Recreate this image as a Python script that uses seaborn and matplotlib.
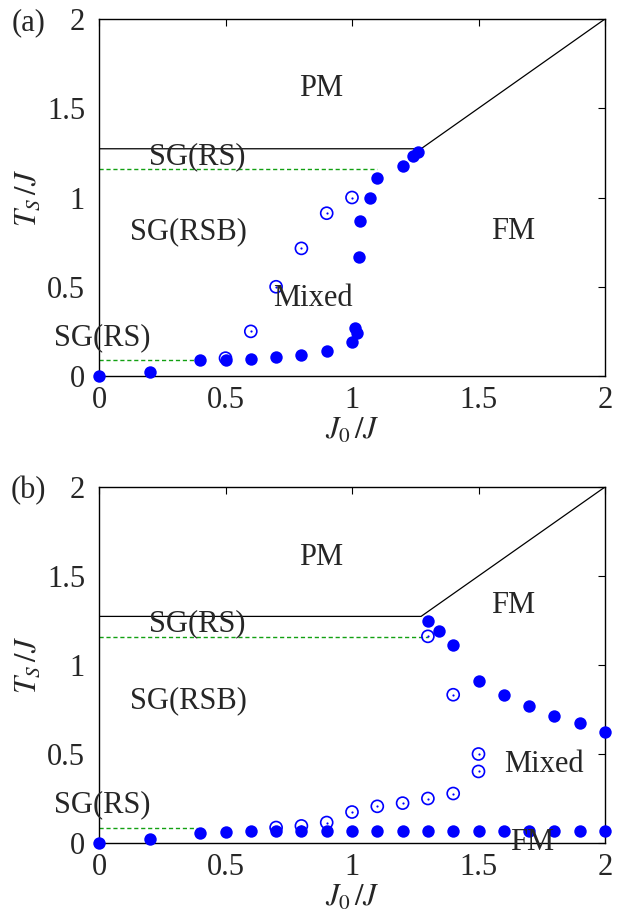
import matplotlib
matplotlib.use("Agg")
import matplotlib.pyplot as plt
import seaborn as sns

sns.set_theme(style="white")
plt.rcParams['font.family'] = ['Liberation Serif', 'DejaVu Serif']
plt.rcParams['mathtext.fontset'] = 'stix'

# ---------------- data ----------------
# panel (a)
a_filled_x = [0.0, 0.2, 0.4, 0.5, 0.6, 0.7, 0.8, 0.9, 1.0, 1.01, 1.02, 1.028, 1.033, 1.07, 1.10, 1.20, 1.243, 1.26]
a_filled_y = [0.0, 0.022, 0.087, 0.087, 0.095, 0.104, 0.119, 0.141, 0.19, 0.27, 0.24, 0.668, 0.868, 1.0, 1.111, 1.176, 1.234, 1.253]
a_open_x = [0.5, 0.6, 0.7, 0.8, 0.9, 1.0]
a_open_y = [0.10, 0.25, 0.50, 0.715, 0.912, 1.0]
a_green_x = [0.0, 1.10]
a_green_y = [1.158, 1.158]

# panel (b)
b_filled_x = [0.0, 0.2, 0.4, 0.5, 0.6, 0.7, 0.8, 0.9, 1.0, 1.1, 1.2, 1.3, 1.4, 1.5, 1.6, 1.7, 1.8, 1.9, 2.0,
              1.30, 1.345, 1.40, 1.50, 1.60, 1.70, 1.80, 1.90, 2.0]
b_filled_y = [0.0, 0.022, 0.056, 0.059, 0.067, 0.069, 0.069, 0.069, 0.07, 0.07, 0.07, 0.07, 0.07, 0.07, 0.07, 0.07, 0.07, 0.07, 0.07,
              1.248, 1.189, 1.111, 0.909, 0.831, 0.769, 0.713, 0.674, 0.624]
b_open_x = [0.7, 0.8, 0.9, 1.0, 1.1, 1.2, 1.3, 1.4, 1.5, 1.5, 1.4, 1.3]
b_open_y = [0.087, 0.096, 0.115, 0.174, 0.206, 0.224, 0.25, 0.278, 0.402, 0.50, 0.833, 1.161]
b_green_x = [0.0, 1.30]
b_green_y = [1.156, 1.156]

# shared boundaries
pm_x = [0.0, 1.273, 2.0]
pm_y = [1.273, 1.273, 2.0]
low_green_x = [0.0, 0.386]
low_green_y = [0.087, 0.087]

ticks = [0, 0.5, 1, 1.5, 2]
tick_labels = ["0", "0.5", "1", "1.5", "2"]

a_texts = [("PM", 0.878, 1.61), ("SG(RS)", 0.39, 1.228), ("SG(RSB)", 0.352, 0.807),
           ("FM", 1.635, 0.807), ("Mixed", 0.844, 0.436), ("SG(RS)", 0.012, 0.215)]
b_texts = [("PM", 0.878, 1.606), ("FM", 1.635, 1.337), ("SG(RS)", 0.39, 1.23),
           ("SG(RSB)", 0.352, 0.80), ("Mixed", 1.758, 0.439), ("FM", 1.71, 0.004),
           ("SG(RS)", 0.012, 0.215)]

W, H = 629, 916
fig = plt.figure(figsize=(W / 100, H / 100), dpi=100)
ax_a = fig.add_axes([99 / W, 1 - 376 / H, 506 / W, 357 / H])
ax_b = fig.add_axes([99 / W, 1 - 843 / H, 506 / W, 356 / H])

BLUE = "#0000ff"
GREEN = "#12a012"
FS = 22


def draw(ax, fx, fy, ox, oy, gx, gy, texts, label):
    sns.lineplot(x=pm_x, y=pm_y, ax=ax, color="black", lw=0.9, sort=False, estimator=None)
    sns.lineplot(x=gx, y=gy, ax=ax, color=GREEN, lw=1.0, linestyle=(0, (3, 2)), sort=False, estimator=None)
    sns.lineplot(x=low_green_x, y=low_green_y, ax=ax, color=GREEN, lw=1.0, linestyle=(0, (3, 2)),
                 sort=False, estimator=None)
    sns.scatterplot(x=ox, y=oy, ax=ax, marker="o", s=75, facecolor="none", edgecolor=BLUE,
                    linewidth=1.2, clip_on=False, zorder=3)
    sns.scatterplot(x=ox, y=oy, ax=ax, marker="o", s=2.5, color=BLUE, linewidth=0, clip_on=False, zorder=3)
    sns.scatterplot(x=fx, y=fy, ax=ax, marker="o", s=80, color=BLUE, linewidth=0, clip_on=False, zorder=4)
    for t, x, y in texts:
        ax.text(x, y, t, ha="center", va="center", fontsize=FS, zorder=5)
    ax.set_xlim(0, 2)
    ax.set_ylim(0, 2)
    ax.set_xticks(ticks)
    ax.set_xticklabels(tick_labels)
    ax.set_yticks(ticks)
    ax.set_yticklabels(tick_labels)
    ax.tick_params(direction="in", top=True, right=True, length=5, width=0.8,
                   labelsize=FS, color="black")
    ax.tick_params(axis="y", pad=10)
    ax.tick_params(axis="x", pad=7)
    for sp in ax.spines.values():
        sp.set_color("black")
        sp.set_linewidth(1.0)
    ax.set_xlabel(r"$J_0\,/J$", fontsize=FS, labelpad=1)
    ax.set_ylabel(r"$T_S\,/J$", fontsize=FS, labelpad=3)
    ax.text(-0.14, 0.99, label, transform=ax.transAxes, fontsize=FS, ha="center", va="center")
    ax.grid(False)


draw(ax_a, a_filled_x, a_filled_y, a_open_x, a_open_y, a_green_x, a_green_y, a_texts, "(a)")
draw(ax_b, b_filled_x, b_filled_y, b_open_x, b_open_y, b_green_x, b_green_y, b_texts, "(b)")

fig.savefig("out.png", dpi=100, facecolor="white")
